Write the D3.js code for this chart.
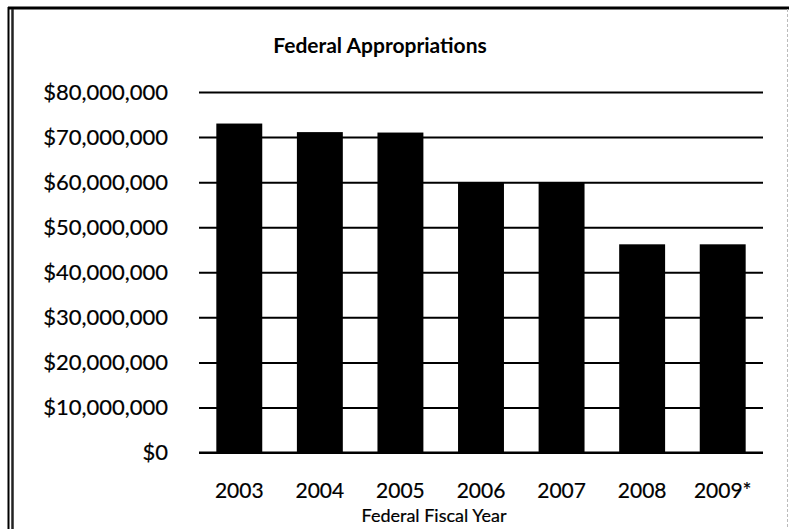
<!DOCTYPE html>
<html>
<head>
<meta charset="utf-8">
<script src="https://cdn.jsdelivr.net/npm/d3@7"></script>
<style>
  html, body { margin: 0; padding: 0; background: #fff; }
  svg { display: block; }
  text { font-family: Lato, "Open Sans", sans-serif; fill: #000; stroke: #000; stroke-width: 0.2px; }
  text.title { stroke: none; }
</style>
</head>
<body>
<svg id="chart" width="789" height="529"></svg>
<script>
// ---- data ----
const categories = ["2003", "2004", "2005", "2006", "2007", "2008", "2009*"];
const appropriations = [73000000, 71100000, 71000000, 60000000, 60000000, 46200000, 46200000];
const yTicks = [0, 10000000, 20000000, 30000000, 40000000, 50000000, 60000000, 70000000, 80000000];
const titleText = "Federal Appropriations";
const xAxisTitle = "Federal Fiscal Year";

const svg = d3.select("#chart");
const W = 789, H = 529;
const plot = { left: 199, right: 763, top: 92, bottom: 452.5 };

// frame
const frame = svg.append("g");
frame.append("line").attr("x1", 8).attr("x2", W).attr("y1", 8).attr("y2", 8)
  .attr("stroke", "#000").attr("stroke-width", 3);
frame.append("line").attr("x1", 8.5).attr("x2", 8.5).attr("y1", 7).attr("y2", H)
  .attr("stroke", "#000").attr("stroke-width", 2);
frame.append("line").attr("x1", 12.5).attr("x2", 12.5).attr("y1", 9).attr("y2", H)
  .attr("stroke", "#222").attr("stroke-width", 2.5);
frame.append("line").attr("x1", 787.5).attr("x2", 787.5).attr("y1", 9).attr("y2", H)
  .attr("stroke", "#bbb").attr("stroke-width", 1).attr("stroke-dasharray", "3,2");

const x = d3.scaleBand().domain(categories)
  .range([plot.left, plot.right]).paddingInner(0.43).paddingOuter(0.215);
const y = d3.scaleLinear().domain([0, 80000000]).range([plot.bottom, plot.top]);

// gridlines via axis
const grid = svg.append("g").attr("transform", `translate(${plot.left},0)`)
  .call(d3.axisLeft(y).tickValues(yTicks).tickSize(-(plot.right - plot.left)).tickFormat(""));
grid.select(".domain").remove();
grid.selectAll(".tick line").attr("stroke", "#000").attr("stroke-width", 2);

// y labels
const yAxis = svg.append("g").attr("transform", `translate(168,0)`)
  .call(d3.axisLeft(y).tickValues(yTicks).tickSize(0).tickPadding(0)
    .tickFormat(d => "$" + d3.format(",")(d)));
yAxis.select(".domain").remove();
yAxis.selectAll("text").attr("font-size", 22).attr("font-family", "Lato").attr("fill", "#000");

// bars
svg.append("g").selectAll("rect").data(categories).join("rect")
  .attr("x", d => x(d))
  .attr("width", x.bandwidth())
  .attr("y", (d, i) => y(appropriations[i]))
  .attr("height", (d, i) => y(0) - y(appropriations[i]))
  .attr("fill", "#000");

// baseline
svg.append("line").attr("x1", plot.left).attr("x2", plot.right)
  .attr("y1", y(0)).attr("y2", y(0)).attr("stroke", "#000").attr("stroke-width", 2);

// x labels
const xAxis = svg.append("g").attr("transform", `translate(0,${plot.bottom})`)
  .call(d3.axisBottom(x).tickSize(0).tickPadding(0));
xAxis.select(".domain").remove();
xAxis.selectAll("text").attr("font-size", 21).attr("font-family", "Lato").attr("fill", "#000")
  .attr("dy", null).attr("y", 45.5);

// titles
svg.append("text").attr("class", "title").attr("x", 380).attr("y", 53).attr("text-anchor", "middle")
  .attr("font-size", 21).attr("font-weight", "bold").text(titleText);
svg.append("text").attr("x", 434).attr("y", 522).attr("text-anchor", "middle")
  .attr("font-size", 18).text(xAxisTitle);
</script>
</body>
</html>
